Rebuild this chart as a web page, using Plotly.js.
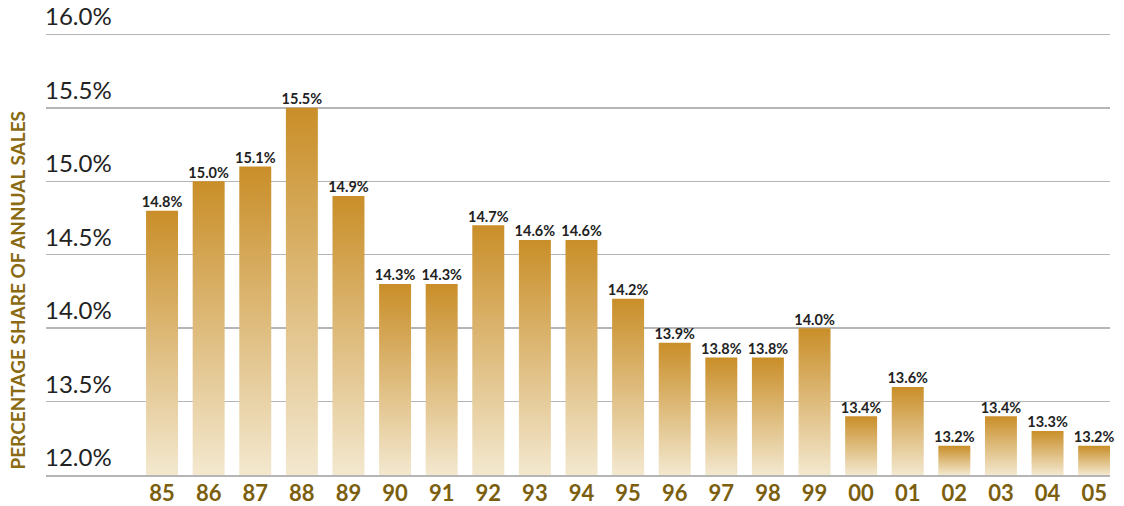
<!DOCTYPE html>
<html>
<head>
<meta charset="utf-8">
<script src="https://cdn.plot.ly/plotly-3.0.1.min.js"></script>
<style>html,body{margin:0;padding:0;background:#fff;}#chart{width:1124px;height:506px;}</style>
</head>
<body>
<div id="chart"></div>
<script>
var years = ['85','86','87','88','89','90','91','92','93','94','95','96','97','98','99','00','01','02','03','04','05'];
var shares = [14.8,15.0,15.1,15.5,14.9,14.3,14.3,14.7,14.6,14.6,14.2,13.9,13.8,13.8,14.0,13.4,13.6,13.2,13.4,13.3,13.2];
var yTickVals = [13,13.5,14,14.5,15,15.5,16];
var yTickText = ['12.0%','13.5%','14.0%','14.5%','15.0%','15.5%','16.0%'];
var axisBase = 13;
var barWidth = 0.686;

var traces = [];
var idx = years.map(function(_, i){ return i; });
shares.forEach(function(v, i){
  var x0 = i - barWidth/2, x1 = i + barWidth/2;
  traces.push({
    type:'scatter', mode:'lines',
    x:[x0,x0,x1,x1,x0], y:[axisBase,v,v,axisBase,axisBase],
    fill:'toself',
    fillgradient:{type:'vertical', colorscale:[[0,'#F3E8CF'],[1,'#C98E28']]},
    line:{width:0, color:'rgba(0,0,0,0)'},
    hoverinfo:'skip', showlegend:false
  });
});
traces.push({
  type:'scatter', mode:'text', x:idx, y:shares,
  text: shares.map(function(v){ return v.toFixed(1)+'%'; }),
  textposition:'top center',
  textfont:{family:'Lato, sans-serif', size:14.5, color:'#222', weight:700},
  hoverinfo:'skip', showlegend:false, cliponaxis:false
});

var annotations = yTickVals.map(function(v, i){
  return {
    text: yTickText[i], xref:'paper', yref:'y', x:0, y:v,
    xanchor:'left', yanchor:'bottom', xshift:-3, yshift:2,
    showarrow:false,
    font:{family:'Lato, sans-serif', size:24, color:'#222'}
  };
});
annotations.push({
  text:'PERCENTAGE SHARE OF ANNUAL SALES', textangle:-90,
  xref:'paper', yref:'paper', x:-0.027, y:0.393, xanchor:'center', yanchor:'middle',
  showarrow:false,
  font:{family:'Lato, sans-serif', size:19, color:'#8A6A12', weight:700}
});

var layout = {
  width:1124, height:506,
  margin:{l:46, r:14, t:5, b:31},
  paper_bgcolor:'#fff', plot_bgcolor:'#fff',
  showlegend:false,
  xaxis:{
    range:[-2.49, 20.34], tickmode:'array', tickvals:idx, ticktext:years,
    showgrid:false, zeroline:false, showline:true, linecolor:'#b5b5b5', linewidth:1.5, ticks:'',
    ticklabelstandoff:-2,
    tickfont:{family:'Lato, sans-serif', size:22, color:'#7B5E0E', weight:700}
  },
  yaxis:{
    range:[13,16.2], tickmode:'array', tickvals:yTickVals,
    showticklabels:false,
    showgrid:true, gridcolor:'#b5b5b5', gridwidth:1.5, zeroline:false, showline:false,
    ticks:''
  },
  annotations:annotations
};
Plotly.newPlot('chart', traces, layout, {displayModeBar:false, staticPlot:true});
</script>
</body>
</html>
